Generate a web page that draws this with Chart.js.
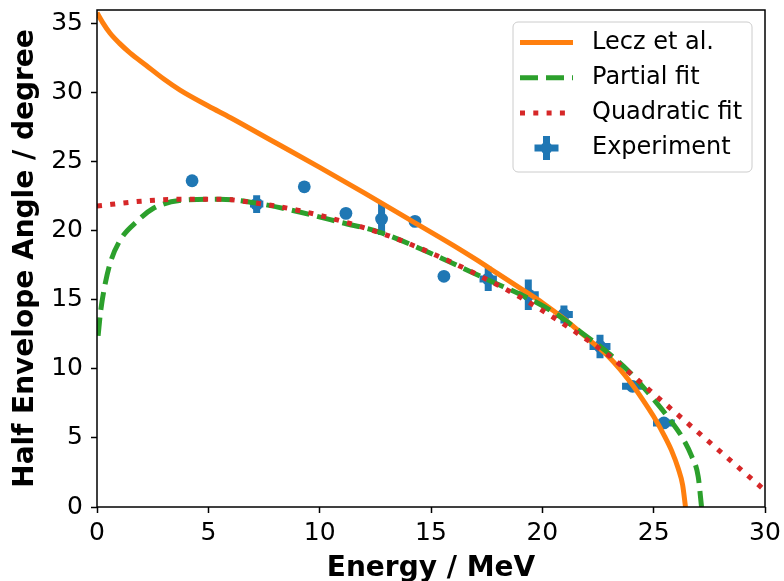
<!DOCTYPE html>
<html>
<head>
<meta charset="utf-8">
<title>Half envelope angle vs energy</title>
<script src="https://cdn.jsdelivr.net/npm/chart.js@4"></script>
<style>
  body { margin: 0; background: #fff; }
  #angleChart { display: block; }
</style>
</head>
<body>
<canvas id="angleChart" width="784" height="581"></canvas>
<script>
// tick values for both axes
const energyTicks = [0, 5, 10, 15, 20, 25, 30];
const angleTicks = [0, 5, 10, 15, 20, 25, 30, 35];

// Lecz et al. model curve
const leczEnergy = [0, 0.25, 0.58, 1, 1.48, 2.2, 3, 3.73, 5, 6, 8, 10, 12, 14, 16, 17, 18, 19, 20, 21, 22, 23, 24, 24.5, 25, 25.5, 25.8, 26.1, 26.3, 26.43];
const leczAngle = [35.8, 35.1, 34.33, 33.6, 32.9, 32.0, 31.0, 30.2, 29.05, 28.2, 26.4, 24.6, 22.75, 20.85, 18.95, 17.95, 16.9, 15.85, 14.8, 13.6, 12.25, 10.85, 8.95, 7.8, 6.55, 5.1, 4.1, 2.8, 1.6, 0];

// partial fit
const partialEnergy = [0.05, 0.15, 0.3, 0.58, 1.03, 1.8, 2.5, 3.7, 5.5, 7.2, 9, 11, 12.7, 15.5, 17.5, 19.4, 20.6, 21.7, 23, 23.9, 25, 25.6, 26.3, 26.7, 27, 27.15];
const partialAngle = [12.4, 14.0, 15.6, 17.6, 19.3, 20.7, 21.6, 22.2, 22.3, 22.0, 21.4, 20.6, 19.9, 18.0, 16.5, 15.1, 14.0, 12.7, 11.1, 9.8, 7.8, 6.6, 5.0, 3.7, 2.2, 0];

// quadratic fit
const quadEnergy = [0, 2, 4, 5.5, 7, 9, 11, 13, 15, 17, 19, 21, 23, 25, 27, 29, 30];
const quadAngle = [21.8, 22.15, 22.3, 22.3, 22.05, 21.5, 20.7, 19.7, 18.4, 16.9, 15.2, 13.2, 10.95, 8.2, 5.4, 2.6, 1.2];

// measured points with their errors
const expEnergy = [4.27, 7.17, 9.31, 11.18, 12.78, 14.28, 15.58, 17.57, 19.37, 20.97, 22.59, 24.05, 25.46];
const expAngle = [23.63, 21.94, 23.19, 21.27, 20.86, 20.69, 16.71, 16.52, 15.37, 13.95, 11.63, 8.74, 6.09];
const expEnergyErr = [0, 0.3, 0, 0, 0, 0, 0, 0.39, 0.47, 0.4, 0.47, 0.47, 0.49];
const expAngleErr = [0, 0.65, 0, 0, 1.15, 0, 0, 0.88, 1.1, 0.65, 0.85, 0.3, 0.3];

const blue = '#1f77b4';
const toPoints = (xs, ys) => xs.map((x, i) => ({ x: x, y: ys[i] }));

// error bars, drawn below every dataset
const errorBars = {
  id: 'errorBars',
  beforeDatasetsDraw(chart) {
    const { ctx, chartArea, scales } = chart;
    ctx.save();
    ctx.beginPath();
    ctx.rect(chartArea.left, chartArea.top, chartArea.width, chartArea.height);
    ctx.clip();
    ctx.strokeStyle = blue;
    ctx.lineWidth = 7;
    ctx.lineCap = 'butt';
    expEnergy.forEach((e, i) => {
      const px = scales.x.getPixelForValue(e);
      const py = scales.y.getPixelForValue(expAngle[i]);
      ctx.beginPath();
      if (expEnergyErr[i] > 0) {
        ctx.moveTo(scales.x.getPixelForValue(e - expEnergyErr[i]), py);
        ctx.lineTo(scales.x.getPixelForValue(e + expEnergyErr[i]), py);
      }
      if (expAngleErr[i] > 0) {
        ctx.moveTo(px, scales.y.getPixelForValue(expAngle[i] - expAngleErr[i]));
        ctx.lineTo(px, scales.y.getPixelForValue(expAngle[i] + expAngleErr[i]));
      }
      ctx.stroke();
    });
    ctx.restore();
  },
};

// box round the plot (matplotlib style spines)
const frame = {
  id: 'frame',
  afterDatasetsDraw(chart) {
    const { ctx, chartArea } = chart;
    ctx.save();
    ctx.strokeStyle = '#000';
    ctx.lineWidth = 1.5;
    ctx.strokeRect(chartArea.left, chartArea.top, chartArea.width, chartArea.height);
    ctx.restore();
  },
};

// legend inside the top right corner of the plot
const boxLegend = {
  id: 'boxLegend',
  afterDraw(chart) {
    const { ctx, chartArea } = chart;
    const right = chartArea.right - 13;
    const top = chartArea.top + 12;
    const left = right - 239;
    ctx.save();
    ctx.beginPath();
    ctx.roundRect(left, top, 239, 150, 5);
    ctx.fillStyle = 'rgba(255,255,255,0.8)';
    ctx.fill();
    ctx.strokeStyle = '#cccccc';
    ctx.lineWidth = 1;
    ctx.stroke();

    ctx.font = '24px "DejaVu Sans"';
    ctx.textBaseline = 'middle';
    chart.data.datasets.forEach((ds, i) => {
      const y = top + 20.5 + i * 35.2;
      const x0 = left + 7;
      const x1 = left + 60;
      ctx.strokeStyle = ds.borderColor;
      if (ds.showLine) {
        ctx.lineWidth = ds.borderWidth;
        ctx.setLineDash(ds.borderDash || []);
        ctx.beginPath();
        ctx.moveTo(x0, y);
        ctx.lineTo(x1, y);
        ctx.stroke();
        ctx.setLineDash([]);
      } else {
        const cx = (x0 + x1) / 2;
        ctx.lineWidth = 7;
        ctx.beginPath();
        ctx.moveTo(cx - 12, y);
        ctx.lineTo(cx + 12, y);
        ctx.moveTo(cx, y - 12);
        ctx.lineTo(cx, y + 12);
        ctx.stroke();
        ctx.beginPath();
        ctx.arc(cx, y, 6, 0, Math.PI * 2);
        ctx.fillStyle = blue;
        ctx.fill();
      }
      ctx.fillStyle = '#000';
      ctx.fillText(ds.label, left + 79, y);
    });
    ctx.restore();
  },
};

Chart.defaults.font.family = '"DejaVu Sans", sans-serif';
Chart.defaults.font.size = 25;
Chart.defaults.color = '#000';

const ctx = document.getElementById('angleChart').getContext('2d');
const myChart = new Chart(ctx, {
  type: 'scatter',
  data: {
    datasets: [
      {
        label: 'Lecz et al.',
        data: toPoints(leczEnergy, leczAngle),
        showLine: true,
        borderColor: '#ff7f0e',
        borderWidth: 5,
        pointRadius: 0,
        cubicInterpolationMode: 'monotone',
        order: 3,
      },
      {
        label: 'Partial fit',
        data: toPoints(partialEnergy, partialAngle),
        showLine: true,
        borderColor: '#2ca02c',
        borderWidth: 5,
        borderDash: [18, 8],
        pointRadius: 0,
        cubicInterpolationMode: 'monotone',
        order: 2,
      },
      {
        label: 'Quadratic fit',
        data: toPoints(quadEnergy, quadAngle),
        showLine: true,
        borderColor: '#d62728',
        borderWidth: 5,
        borderDash: [5, 8.3],
        pointRadius: 0,
        cubicInterpolationMode: 'monotone',
        order: 1,
      },
      {
        label: 'Experiment',
        data: toPoints(expEnergy, expAngle),
        showLine: false,
        backgroundColor: blue,
        borderColor: blue,
        borderWidth: 0,
        pointRadius: 6.4,
        order: 4,
      },
    ],
  },
  options: {
    responsive: false,
    animation: false,
    layout: { padding: { top: 10, right: 19, left: 0, bottom: 0 } },
    plugins: {
      legend: { display: false },
      tooltip: { enabled: false },
    },
    scales: {
      x: {
        type: 'linear',
        min: 0,
        max: 30,
        afterBuildTicks: (scale) => { scale.ticks = energyTicks.map((v) => ({ value: v })); },
        afterFit: (scale) => {
          scale.height = 74;
          scale.paddingLeft = 0;
          scale.paddingRight = 0;
        },
        ticks: { padding: 5, maxRotation: 0 },
        grid: { drawOnChartArea: false, color: '#000', tickLength: 6, tickWidth: 1.5 },
        border: { display: false },
        title: {
          display: true,
          text: 'Energy / MeV',
          font: { size: 28, weight: 'bold' },
          padding: { top: 0, bottom: -5 },
        },
      },
      y: {
        type: 'linear',
        min: 0,
        max: 36,
        afterBuildTicks: (scale) => { scale.ticks = angleTicks.map((v) => ({ value: v })); },
        afterFit: (scale) => {
          scale.width = 97;
          scale.paddingTop = 0;
          scale.paddingBottom = 0;
        },
        ticks: { padding: 8 },
        grid: { drawOnChartArea: false, color: '#000', tickLength: 6, tickWidth: 1.5 },
        border: { display: false },
        title: {
          display: true,
          text: 'Half Envelope Angle / degree',
          font: { size: 28, weight: 'bold' },
          padding: { top: 9, bottom: 0 },
        },
      },
    },
  },
  plugins: [errorBars, frame, boxLegend],
});
</script>
</body>
</html>
